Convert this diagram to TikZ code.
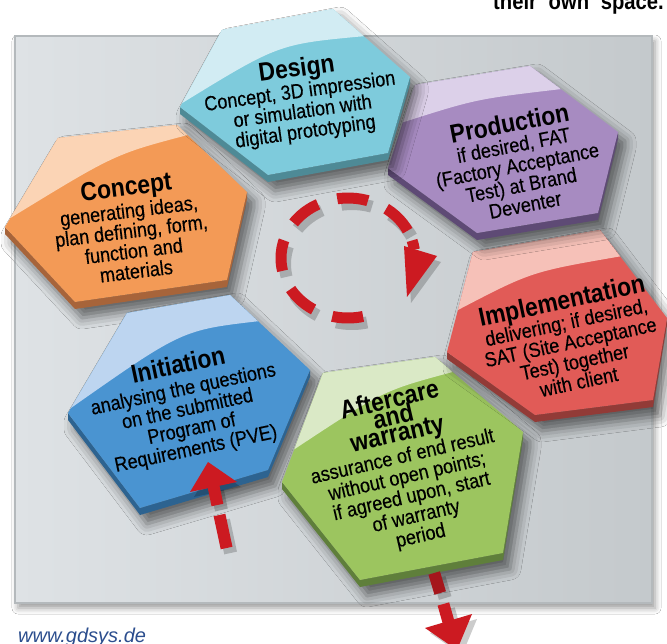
\documentclass[tikz,border=0pt]{standalone}
\usepackage{fontspec}
\setmainfont{Liberation Sans}
\newfontfamily\bodyfont{Liberation Sans}[FakeStretch=0.88, FakeBold=0.3]
\newfontfamily\titlefont{Liberation Sans}[FakeStretch=0.88]
\usetikzlibrary{calc,shadows.blur}
\definecolor{panelL}{HTML}{DEE2E5}
\definecolor{panelR}{HTML}{C4C9CC}
\definecolor{panelB}{HTML}{B4B9BC}
\definecolor{cMain}{HTML}{F39A56}\definecolor{cLight}{HTML}{FBD4B5}\definecolor{cSide}{HTML}{A7643A}
\definecolor{dMain}{HTML}{7ECBDC}\definecolor{dLight}{HTML}{D2ECF3}\definecolor{dSide}{HTML}{4E8A96}
\definecolor{pMain}{HTML}{A78BC1}\definecolor{pLight}{HTML}{DCD0E9}\definecolor{pSide}{HTML}{5E4A75}
\definecolor{iMain}{HTML}{E15B57}\definecolor{iLight}{HTML}{F6C1B8}\definecolor{iSide}{HTML}{923B37}
\definecolor{nMain}{HTML}{4A94D1}\definecolor{nLight}{HTML}{BDD5F0}\definecolor{nSide}{HTML}{2D6390}
\definecolor{aMain}{HTML}{9CC55F}\definecolor{aLight}{HTML}{DAE9C6}\definecolor{aSide}{HTML}{5F7F3B}
\definecolor{arrowred}{HTML}{CC1A21}
\definecolor{arrowdark}{HTML}{A5161C}
\definecolor{urlblue}{HTML}{2C4E8E}
\newcommand\ttl[1]{{\titlefont\fontsize{26}{24}\selectfont\bfseries #1}}
\tikzset{
  hextext/.style={align=center, inner sep=0pt, text=black, font=\bodyfont\fontsize{20.5}{20.3}\selectfont},
  hexshadow/.style={blur shadow={shadow xshift=7pt, shadow yshift=-9pt, shadow blur radius=11pt, shadow opacity=55}},
  redshaft/.style={draw=arrowred, line width=12pt},
  redhead/.style={fill=arrowred},
}
\newcommand\hexprism[5]{%
  \path[hexshadow] (A) -- (B) -- (C) -- ([yshift=-7pt]C) -- ([yshift=-7pt]D) -- ([yshift=-7pt]E) -- ([yshift=-7pt]F) -- (F) -- cycle;
  \fill[#3] (F) -- ([yshift=-7pt]F) -- ([yshift=-7pt]E) -- ([yshift=-7pt]D) -- ([yshift=-7pt]C) -- (C) -- (D) -- (E) -- cycle;
  \fill[#1] (A) -- (B) -- (C) -- (D) -- (E) -- (F) -- cycle;
  \begin{scope}
    \clip (A) -- (B) -- (C) -- (D) -- (E) -- (F) -- cycle;
    \fill[#2] ($(A)!#4!(F)$) -- (A) -- (B) -- ($(B)!#5!(C)$) .. controls ($(A)!0.3!(C)$) .. ($(A)!#4!(F)$) -- cycle;
  \end{scope}
}
\begin{document}
\begin{tikzpicture}[x=1pt,y=-1pt]
\useasboundingbox (0,0) rectangle (667,644);
\clip (0,0) rectangle (667,644);
\fill[white] (0,0) rectangle (667,644);
\node[anchor=base east, font=\titlefont\fontsize{23}{23}\selectfont\bfseries, inner sep=0pt] (topnote) at (664,10) {their\hspace{6pt} own\hspace{6pt} space.};
% panel
\path[blur shadow={shadow xshift=3pt, shadow yshift=-5pt, shadow blur radius=6pt, shadow opacity=40}] (15,36) rectangle (652,603);
\shade[left color=panelL, right color=panelR] (15,36) rectangle (652,603);
\draw[panelB, line width=2pt] (15,36) rectangle (652,603);
\node[anchor=base west, font=\fontsize{20}{20}\selectfont\itshape, text=urlblue, inner sep=0pt] (url) at (18,642) {www.gdsys.de};

% Concept
\coordinate (A) at (58,138); \coordinate (B) at (177,125); \coordinate (C) at (247,192);
\coordinate (D) at (227,280); \coordinate (E) at (75,302); \coordinate (F) at (5,227);
\hexprism{cMain}{cLight}{cSide}{0.9}{0.15}
\node[hextext, rotate=7] (concept) at (131,228) {\ttl{Concept}\\[2pt]generating ideas,\\plan defining, form,\\function and\\materials};

% Initiation
\coordinate (A) at (127,313); \coordinate (B) at (230,295); \coordinate (C) at (310,370);
\coordinate (D) at (268,470); \coordinate (E) at (140,508); \coordinate (F) at (68,413);
\hexprism{nMain}{nLight}{nSide}{0.95}{0.35}
\node[hextext, rotate=12] (initiation) at (187,407) {\ttl{Initiation}\\[2pt]analysing the questions\\on the submitted\\Program of\\Requirements (PVE)};

% Aftercare
\coordinate (A) at (323,373); \coordinate (B) at (435,357); \coordinate (C) at (523,432);
\coordinate (D) at (503,553); \coordinate (E) at (360,580); \coordinate (F) at (282,482);
\hexprism{aMain}{aLight}{aSide}{0.7}{0.2}
\node[hextext, rotate=13] (aftercare) at (405,468) {\ttl{Aftercare}\\[-3pt]\ttl{and}\\[-3pt]\ttl{warranty}\\[1pt]assurance of end result\\without open points;\\if agreed upon, start\\of warranty\\period};

% Implementation
\coordinate (A) at (473,252); \coordinate (B) at (600,230); \coordinate (C) at (667,318);
\coordinate (D) at (653,400); \coordinate (E) at (535,415); \coordinate (F) at (447,352);
\hexprism{iMain}{iLight}{iSide}{0.58}{0.3}
\node[hextext, rotate=12] (implementation) at (570,340) {\ttl{Implementation}\\[0pt]delivering; if desired,\\SAT (Site Acceptance\\Test) together\\with client};

% Production
\coordinate (A) at (415,85); \coordinate (B) at (530,66); \coordinate (C) at (618,132);
\coordinate (D) at (598,213); \coordinate (E) at (477,233); \coordinate (F) at (388,168);
\hexprism{pMain}{pLight}{pSide}{0.45}{0.35}
\node[hextext, rotate=11] (production) at (517,163) {\ttl{Production}\\[0pt]if desired, FAT\\(Factory Acceptance\\Test) at Brand\\Deventer};

% Design
\coordinate (A) at (222,30); \coordinate (B) at (333,9); \coordinate (C) at (410,77);
\coordinate (D) at (388,153); \coordinate (E) at (268,175); \coordinate (F) at (180,107);
\hexprism{dMain}{dLight}{dSide}{0.95}{0.4}
\node[hextext, rotate=8] (design) at (301,100) {\ttl{Design}\\[0pt]Concept, 3D impression\\or simulation with\\digital prototyping};

% cycle arrow
\coordinate (cyc) at (348,258);
\begin{scope}[transform canvas={xshift=4pt,yshift=-6pt}]
\draw[black, opacity=.2, line width=12pt, dash pattern=on 31pt off 20pt] ($(cyc)+(77:67 and 60)$) arc[start angle=77, end angle=335, x radius=67, y radius=60];
\fill[black, opacity=.2] (404,246) -- (437,256) -- (407,297) -- cycle;
\end{scope}
\draw[arrowred, line width=11pt, dash pattern=on 31pt off 20pt] ($(cyc)+(77:67 and 60)$) coordinate (cycstart) arc[start angle=77, end angle=335, x radius=67, y radius=60];
\draw[arrowred, line width=11pt] ($(cyc)+(343:67 and 60)$) arc[start angle=343, end angle=352, x radius=67, y radius=60] coordinate (cycend);
\coordinate (cycL) at (404,246); \coordinate (cycR) at (437,256); \coordinate (cyctip) at (407,297);
\fill[arrowred] (cycL) -- (cycR) -- (cyctip) -- cycle;

% arrow into Initiation
\coordinate (inT) at (208,462); \coordinate (inL) at (190,492); \coordinate (inR) at (237,482);
\coordinate (in1) at (213.5,486); \coordinate (in2) at (217.4,505);
\coordinate (in3) at (219.5,515); \coordinate (in4) at (226.6,548);
\begin{scope}[transform canvas={xshift=4pt,yshift=-5pt}]
\fill[black, opacity=.2] (inT) -- (inL) -- (inR) -- cycle;
\draw[black, opacity=.2, line width=13pt] (in1) -- (in2) (in3) -- (in4);
\end{scope}
\draw[redshaft] (in1) -- (in2);
\draw[redshaft] (in3) -- (in4);
\fill[redhead] (inT) -- (inL) -- (inR) -- cycle;

% arrow out of Aftercare
\coordinate (outT) at (457,650); \coordinate (outL) at (425,628); \coordinate (outR) at (472,614);
\coordinate (out1) at (434.2,573); \coordinate (out2) at (440.2,593);
\coordinate (out3) at (443.4,604); \coordinate (out4) at (448.5,622);
\begin{scope}[transform canvas={xshift=5pt,yshift=-5pt}]
\fill[black, opacity=.2] (outT) -- (outL) -- (outR) -- cycle;
\draw[black, opacity=.2, line width=13pt] (out1) -- (out2) (out3) -- (out4);
\end{scope}
\draw[draw=arrowdark, line width=12pt] (out1) -- (out2);
\draw[redshaft] (out3) -- (out4);
\fill[redhead] (outL) -- (outR) -- (outT) -- cycle;
\end{tikzpicture}
\end{document}
